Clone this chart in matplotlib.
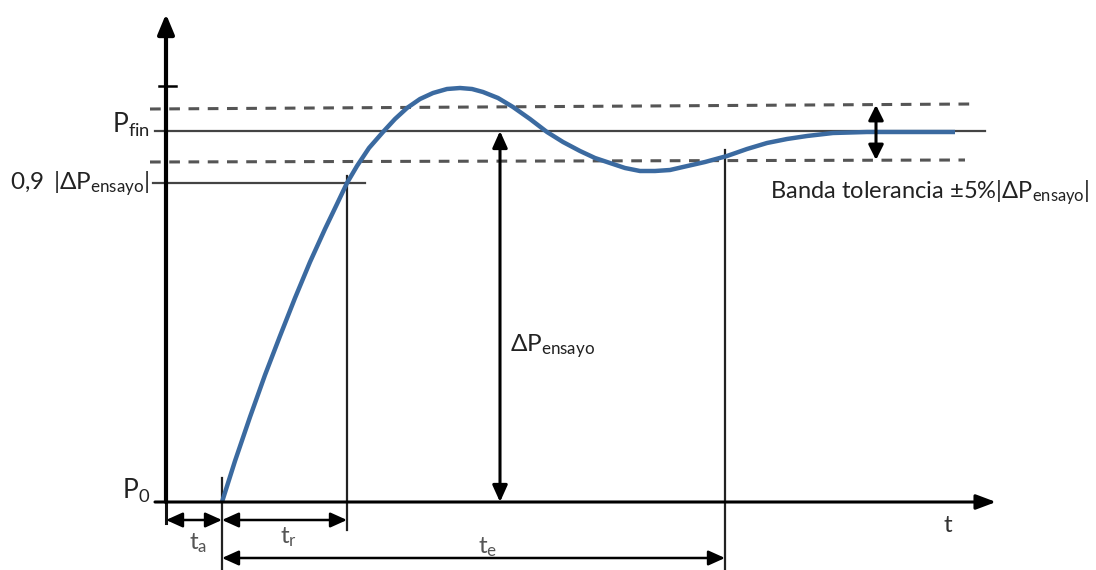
import matplotlib.pyplot as plt

plt.rcParams['font.family'] = ['Lato', 'DejaVu Sans']
plt.rcParams['mathtext.fontset'] = 'custom'
plt.rcParams['mathtext.rm'] = 'Lato'
plt.rcParams['mathtext.it'] = 'Lato'

# response curve (t, P) in image units (y grows downward)
t_curve = [222, 235, 250, 265, 280, 295, 310, 325, 337, 347, 357, 369, 383, 395,
           407, 420, 433, 447, 460, 472, 483, 498, 513, 530, 547, 563, 580, 595,
           610, 625, 640, 655, 670, 683, 705, 727, 747, 767, 787, 807, 833, 867,
           910, 955]
p_curve = [502, 461, 417, 375, 336, 298, 262, 229, 204, 183, 166, 148, 132, 119,
           108, 99, 93, 89, 88, 89, 92, 98, 107, 119, 132, 142, 151, 158,
           163, 168, 171, 171, 170, 167, 162, 156, 149, 143, 139, 136, 133, 132,
           132, 132]

# levels
p_0 = 502
p_fin = 131
p_90 = 183
band_hi = [109, 104]
band_lo = [162, 160]

# times
t_axis = 166
t_a = 222
t_r = 347
t_e = 725
t_dp = 500
t_band = 876

fig = plt.figure(figsize=(10.96, 5.70), dpi=100)
ax = fig.add_axes([0, 0, 1, 1])
ax.set_xlim(0, 1096)
ax.set_ylim(570, 0)
ax.axis('off')

grey = '#444444'

# horizontal reference lines
ax.plot([155, 985], [p_fin, p_fin], color=grey, lw=1.6)
ax.plot([153, 365], [p_90, p_90], color=grey, lw=1.6)
ax.plot([150, 972], band_hi, color='#555555', lw=2.2, ls=(0, (3.5, 2.8)))
ax.plot([150, 965], band_lo, color='#555555', lw=2.2, ls=(0, (3.5, 2.8)))
ax.plot([159, 176], [86, 86], color='black', lw=1.8)

# vertical markers
ax.plot([t_a, t_a], [478, 570], color='#222222', lw=1.6)
ax.plot([t_r, t_r], [176, 530], color='#222222', lw=1.6)
ax.plot([t_e, t_e], [150, 570], color='#222222', lw=1.6)
ax.plot([t_axis, t_axis], [p_0, 523], color='#111111', lw=2.2)

# axes
ax.annotate('', xy=(t_axis, 14), xytext=(t_axis, p_0),
            arrowprops=dict(arrowstyle='-|>,head_length=1.2,head_width=0.5',
                            color='black', lw=3, shrinkA=0, shrinkB=0))
ax.annotate('', xy=(996, p_0), xytext=(155, p_0),
            arrowprops=dict(arrowstyle='-|>,head_length=1.2,head_width=0.45',
                            color='black', lw=2.2, shrinkA=0, shrinkB=0))

# curve
ax.plot(t_curve, p_curve, color='#3b6aa0', lw=3.2, solid_joinstyle='round',
        solid_capstyle='butt')

# double arrows
def dbl(x0, y0, x1, y1, lw=2.2, hl=1.0, hw=0.45):
    ax.annotate('', xy=(x1, y1), xytext=(x0, y0),
                arrowprops=dict(arrowstyle='<|-|>,head_length=%s,head_width=%s' % (hl, hw),
                                color='black', lw=lw, shrinkA=0, shrinkB=0))

dbl(t_dp, p_fin, t_dp, p_0)
dbl(t_band, band_hi[0] - 4, t_band, band_lo[0] - 2, lw=2.2, hl=0.9, hw=0.45)
dbl(t_axis, 520, t_a, 520, lw=1.8)
dbl(t_a, 520, t_r, 520, lw=1.8)
dbl(t_a, 558, t_e, 558, lw=1.8)

# labels
fs = 17.5
ax.text(150, 125, r'P$_{\mathrm{fin}}$', fontsize=19, ha='right', va='center', color='#222222')
ax.text(150, 184, r'0,9 $\,$|ΔP$_{\mathrm{ensayo}}$|', fontsize=fs, ha='right', va='center', color='#222222')
ax.text(150, 491, r'P$_{\mathrm{0}}$', fontsize=19, ha='right', va='center', color='#222222')
ax.text(510, 346, r'ΔP$_{\mathrm{ensayo}}$', fontsize=fs, ha='left', va='center', color='#222222')
ax.text(770, 193, r'Banda tolerancia ±5%|ΔP$_{\mathrm{ensayo}}$|', fontsize=17, ha='left',
        va='center', color='#222222')
ax.text(948, 526, 't', fontsize=fs, ha='center', va='center', color='#333333')
ax.text(198, 543, r't$_{\mathrm{a}}$', fontsize=fs, ha='center', va='center', color='#555555')
ax.text(289, 537, r't$_{\mathrm{r}}$', fontsize=fs, ha='center', va='center', color='#555555')
ax.text(488, 547, r't$_{\mathrm{e}}$', fontsize=fs, ha='center', va='center', color='#555555')

fig.savefig('out.png', dpi=100)
